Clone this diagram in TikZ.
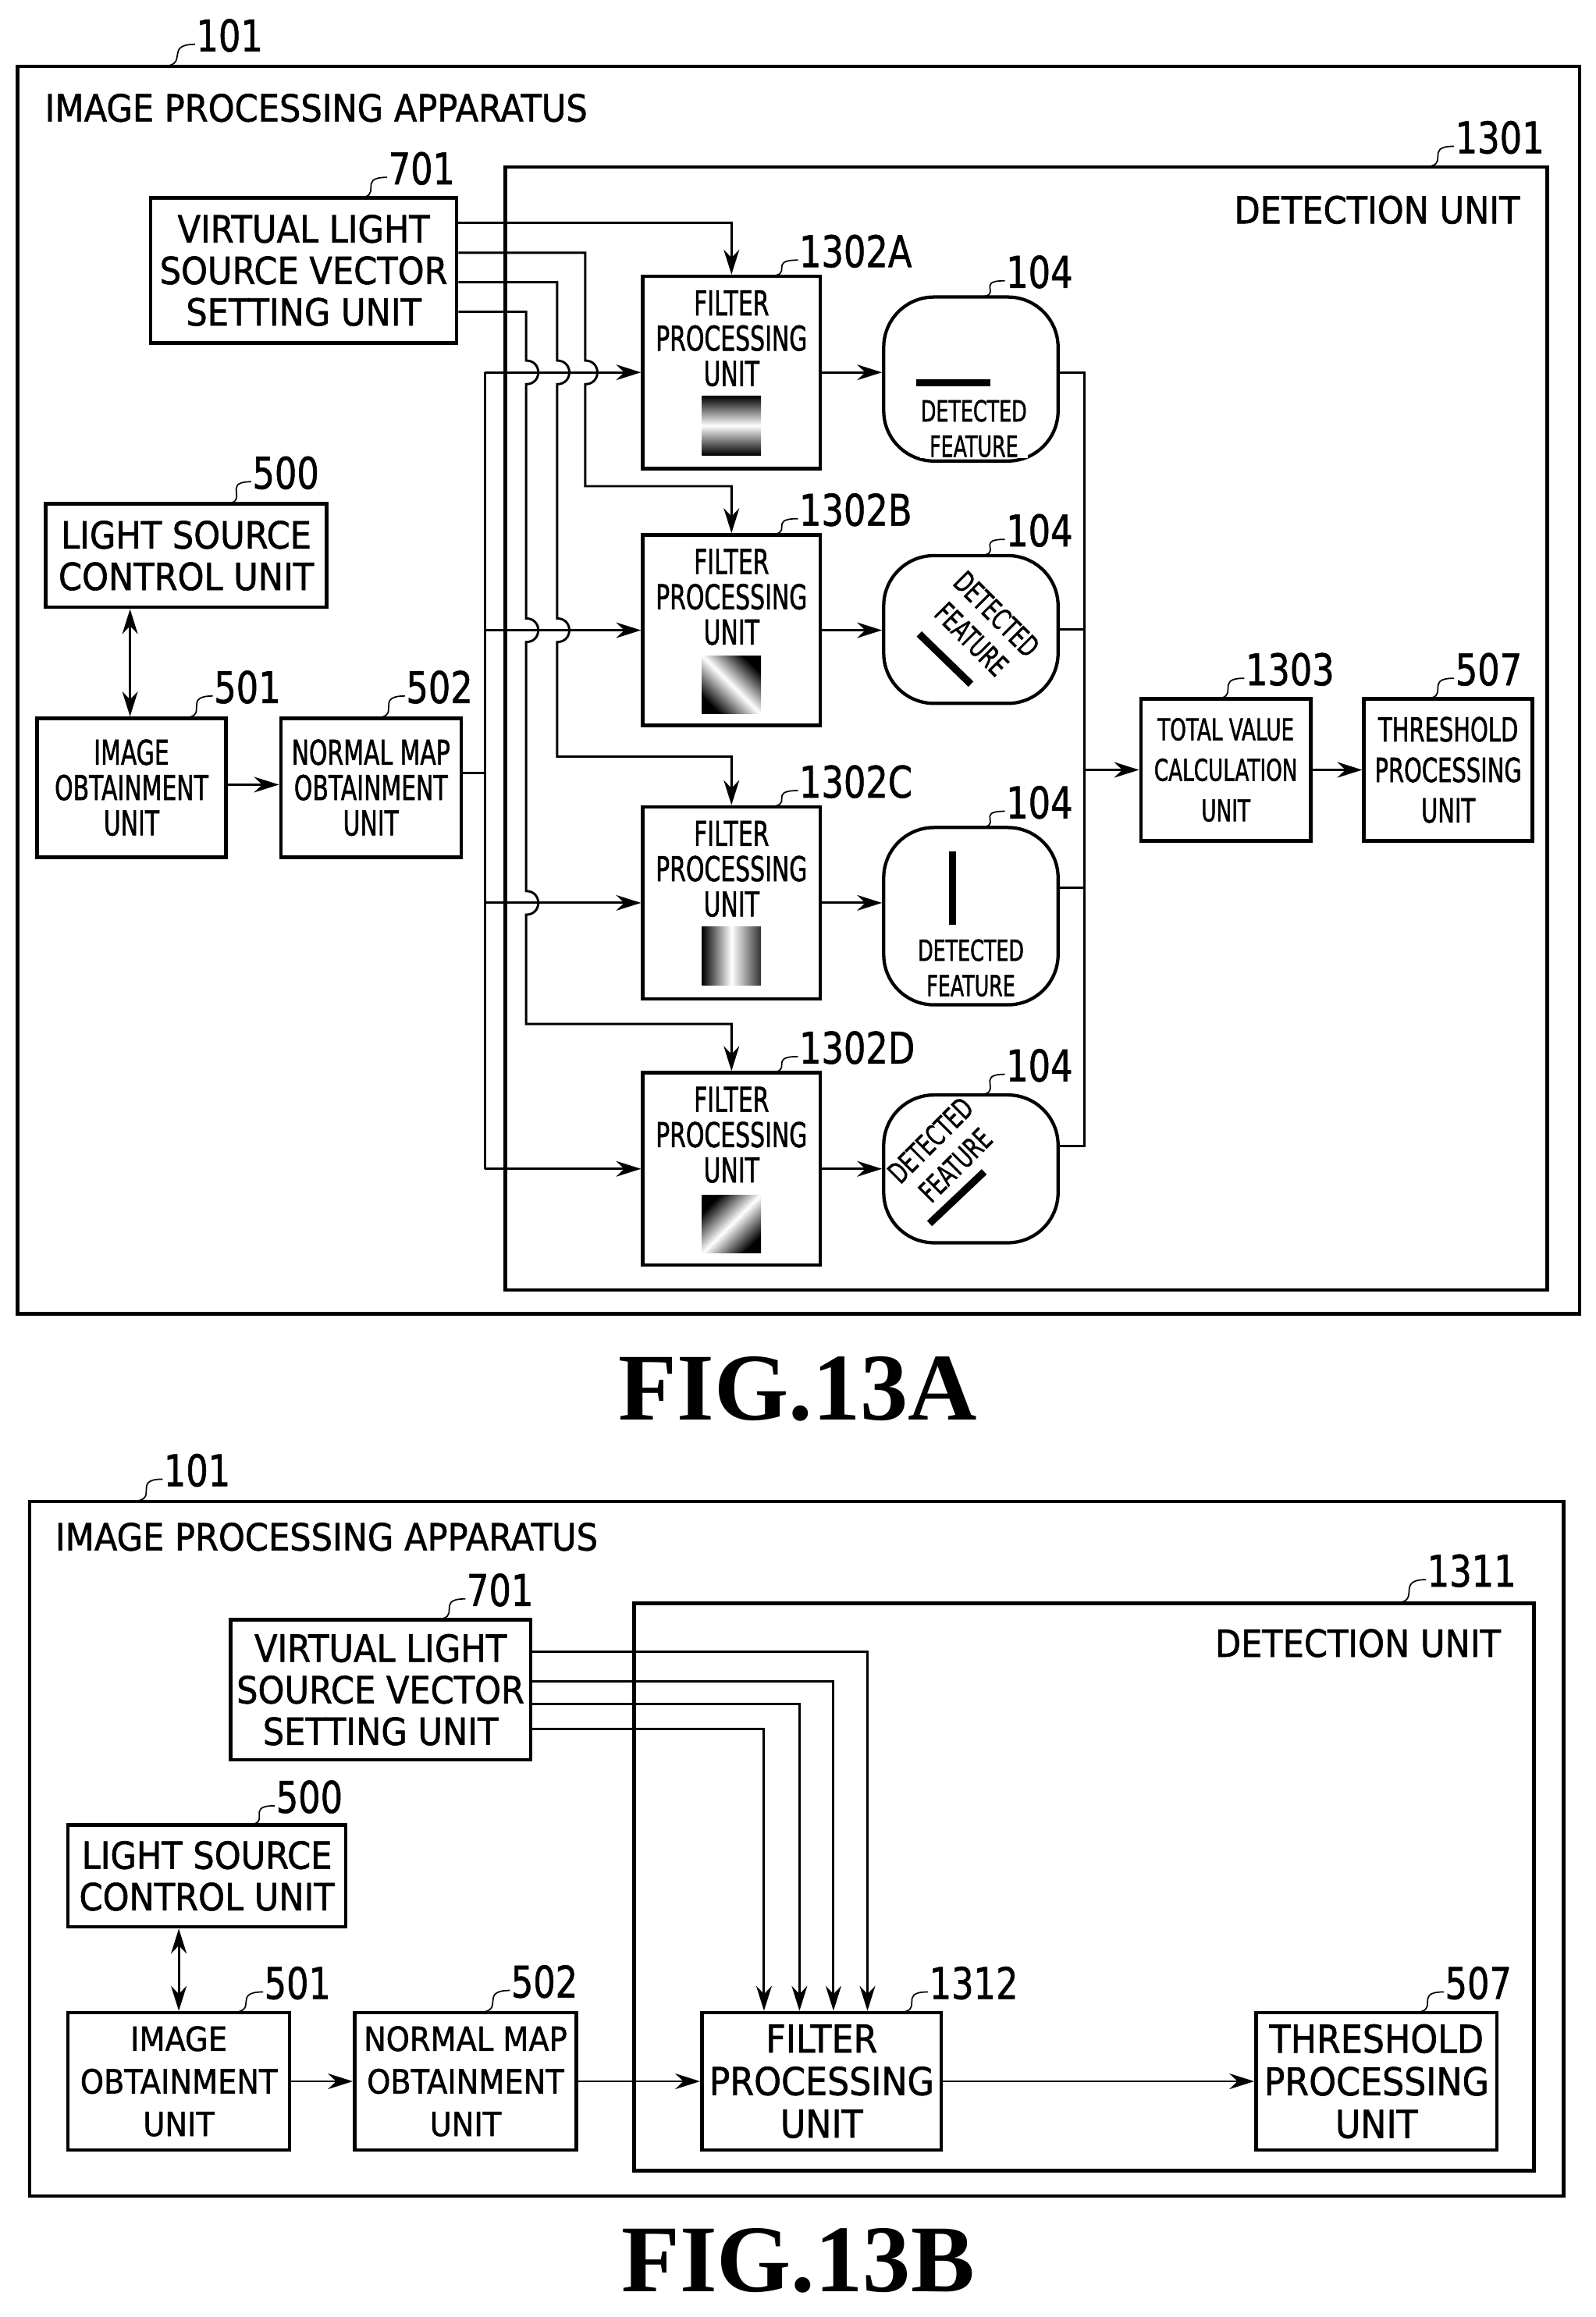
\documentclass[tikz,border=0pt]{standalone}
\usepackage{fontspec}
\setmainfont{DejaVu Sans}
\newfontfamily\fa[FakeStretch=0.9,FakeBold=1.2]{DejaVu Sans}
\newfontfamily\fl[FakeStretch=0.8,FakeBold=1]{DejaVu Sans}
\newfontfamily\fc[FakeStretch=0.68,FakeBold=1.2]{DejaVu Sans}
\newfontfamily\fs{Liberation Serif}
\usetikzlibrary{arrows.meta}
\newcommand\mkbox[7]{\node[#6,minimum width={(#4-#2)*0.05cm},minimum height={(#5-#3)*0.05cm}] (#1) at ({(#2+#4)/2},{(#3+#5)/2}) {#7};}
\newcommand\reflab[6]{\draw[line width=1.3pt] (#2,#3) .. controls ({#2+22},#3) and ({#4-22},#5) .. (#4,#5);
  \node[lab,anchor=west] (#1) at (#4,{#5-6}) {#6};}
\begin{document}
\begin{tikzpicture}[x=0.05cm,y=-0.05cm,
  box/.style={draw,line width=3.4pt,inner sep=0pt,align=center},
  frame/.style={draw,line width=3.4pt,inner sep=0pt},
  shp/.style={draw,line width=3.2pt,inner sep=0pt,rounded corners=1.7cm},
  ln/.style={line width=2.2pt},
  arr/.style={ln,-{Stealth[length=24pt,width=15pt]}},
  darr/.style={ln,{Stealth[length=24pt,width=15pt]}-{Stealth[length=24pt,width=15pt]}},
  lab/.style={inner sep=1pt,font=\fl\fontsize{42}{42}\selectfont},
  tA/.style={font=\fa\fontsize{36}{40}\selectfont},
  tC/.style={font=\fc\fontsize{33}{34}\selectfont},
  tD/.style={font=\fc\fontsize{28}{34}\selectfont,inner sep=1pt,align=center},
  bar/.style={line width=7pt}]
\useasboundingbox (0,0) rectangle (1080,1568);
% ================= FIG 13A =================
\mkbox{outA}{12}{45}{1069}{889}{frame}{}
\mkbox{detA}{342}{113}{1047}{873}{frame}{}
\node[tA,anchor=west] (ipaA) at (28,73) {IMAGE PROCESSING APPARATUS};
\node[tA,anchor=east] (duA) at (1031,142) {DETECTION UNIT};
\mkbox{vA}{102}{134}{309}{232}{box,tA}{VIRTUAL LIGHT\\SOURCE VECTOR\\SETTING UNIT}
\mkbox{lsA}{31}{341}{221}{411}{box,tA}{LIGHT SOURCE\\CONTROL UNIT}
\mkbox{ioA}{25}{486}{153}{580}{box,tC}{IMAGE\\OBTAINMENT\\UNIT}
\mkbox{nmA}{190}{486}{312}{580}{box,tC}{NORMAL MAP\\OBTAINMENT\\UNIT}
\mkbox{tvA}{772}{473}{887}{569}{box,font=\fc\fontsize{29}{39}\selectfont}{TOTAL VALUE\\CALCULATION\\UNIT}
\mkbox{thA}{923}{473}{1037}{569}{box,font=\fc\fontsize{32}{39}\selectfont}{THRESHOLD\\PROCESSING\\UNIT}
% filter boxes
\mkbox{fA}{435}{187}{555}{317}{box}{}
\mkbox{fB}{435}{362}{555}{491}{box}{}
\mkbox{fC}{435}{546}{555}{676}{box}{}
\mkbox{fD}{435}{726}{555}{856}{box}{}
\node[tC,align=center] (ftA) at (495,229) {FILTER\\PROCESSING\\UNIT};
\node[tC,align=center] (ftB) at (495,404) {FILTER\\PROCESSING\\UNIT};
\node[tC,align=center] (ftC) at (495,588) {FILTER\\PROCESSING\\UNIT};
\node[tC,align=center] (ftD) at (495,768) {FILTER\\PROCESSING\\UNIT};
\shade[top color=black,bottom color=black,middle color=white] (475,268) rectangle (515,308);
\shade[top color=black,bottom color=black,middle color=white,shading angle=135] (475,444) rectangle (515,483);
\shade[left color=black,right color=black!80,middle color=white] (475,627) rectangle (515,667);
\shade[top color=black,bottom color=black,middle color=white,shading angle=45] (475,809) rectangle (515,848);
% detected feature shapes
\mkbox{dA}{598}{201}{716}{312}{shp}{}
\mkbox{dB}{598}{376}{716}{476}{shp}{}
\mkbox{dC}{598}{560}{716}{680}{shp}{}
\mkbox{dD}{598}{741}{716}{841}{shp}{}
\draw[bar] (620,259) -- (670,259);
\node[tD,fill=white] (dtA) at (659,290) {DETECTED\\FEATURE};
\draw[bar] (644.5,576) -- (644.5,626);
\node[tD,fill=white] (dtC) at (657,655) {DETECTED\\FEATURE};
\draw[bar] (622,429) -- (657,463);
\node[tD,rotate=-45] (dtB) at (666,424) {DETECTED\\FEATURE};
\draw[bar] (629,828) -- (666,793);
\node[tD,rotate=45] (dtD) at (638,780) {DETECTED\\FEATURE};
% labels
\reflab{l101A}{108}{45}{132}{30}{101}
\reflab{l701A}{240}{134}{262}{120}{701}
\reflab{l500A}{150}{341}{170}{326}{500}
\reflab{l501A}{122}{486}{144}{471}{501}
\reflab{l502A}{252}{486}{274}{471}{502}
\reflab{l1302A}{518}{187}{540}{176}{1302A}
\reflab{l1302B}{518}{362}{540}{351}{1302B}
\reflab{l1302C}{518}{546}{540}{535}{1302C}
\reflab{l1302D}{518}{726}{540}{715}{1302D}
\reflab{l104A}{660}{201}{680}{190}{104}
\reflab{l104B}{660}{376}{680}{365}{104}
\reflab{l104C}{660}{560}{680}{549}{104}
\reflab{l104D}{660}{741}{680}{727}{104}
\reflab{l1303}{820}{473}{842}{459}{1303}
\reflab{l507A}{962}{473}{984}{459}{507}
\reflab{l1301}{962}{113}{984}{99}{1301}
% connectors 13A
\draw[darr] (lsA.south -| 88,0) -- (ioA.north -| 88,0);
\draw[arr] (ioA.east |- 0,531) -- (nmA.west |- 0,531);
\coordinate (busT) at (328,252);
\coordinate (busB) at (328,791);
\draw[ln] (nmA.east |- 0,523) -- (328,523);
\draw[ln] (busT) -- (busB);
\draw[arr] (busT) -- (fA.west);
\draw[arr] (328,426.5) -- (fB.west);
\draw[arr] (328,611) -- (fC.west);
\draw[arr] (busB) -- (fD.west);
\draw[arr] (vA.east |- 0,151) -| (fA.north);
\draw[arr] (vA.east |- 0,171) -- (396,171) -- (396,244) .. controls (407,244) and (407,260) .. (396,260) -- (396,329) -| (fB.north);
\draw[arr] (vA.east |- 0,191) -- (377,191) -- (377,244) .. controls (388,244) and (388,260) .. (377,260)
  -- (377,418.5) .. controls (388,418.5) and (388,434.5) .. (377,434.5) -- (377,512) -| (fC.north);
\draw[arr] (vA.east |- 0,211) -- (356,211) -- (356,244) .. controls (367,244) and (367,260) .. (356,260)
  -- (356,418.5) .. controls (367,418.5) and (367,434.5) .. (356,434.5)
  -- (356,603) .. controls (367,603) and (367,619) .. (356,619) -- (356,693) -| (fD.north);
\draw[arr] (fA.east) -- (dA.west |- fA.east);
\draw[arr] (fB.east) -- (dB.west |- fB.east);
\draw[arr] (fC.east) -- (dC.west |- fC.east);
\draw[arr] (fD.east) -- (dD.west |- fD.east);
\coordinate (sumT) at (734,252);
\coordinate (sumB) at (734,775.5);
\draw[ln] (dA.east |- sumT) -- (sumT) -- (sumB) -- (dD.east |- sumB);
\draw[ln] (dB.east |- 0,426) -- (734,426);
\draw[ln] (dC.east |- 0,600.6) -- (734,600.6);
\draw[arr] (734,521) -- (tvA.west);
\draw[arr] (tvA.east) -- (thA.west);
\node[font=\fs\bfseries\fontsize{92}{92}\selectfont] (capA) at (540,940) {FIG.13A};
% ================= FIG 13B =================
\mkbox{outB}{20}{1016}{1058}{1486}{frame}{}
\mkbox{detB}{429}{1085}{1038}{1469}{frame}{}
\node[tA,anchor=west] (ipaB) at (35,1040) {IMAGE PROCESSING APPARATUS};
\node[tA,anchor=east] (duB) at (1018,1112) {DETECTION UNIT};
\mkbox{vB}{156}{1096}{359}{1191}{box,tA}{VIRTUAL LIGHT\\SOURCE VECTOR\\SETTING UNIT}
\mkbox{lsB}{46}{1235}{234}{1304}{box,tA}{LIGHT SOURCE\\CONTROL UNIT}
\mkbox{ioB}{46}{1362}{196}{1455}{box,font=\fa\fontsize{32}{41}\selectfont}{IMAGE\\OBTAINMENT\\UNIT}
\mkbox{nmB}{240}{1362}{390}{1455}{box,font=\fa\fontsize{32}{41}\selectfont}{NORMAL MAP\\OBTAINMENT\\UNIT}
\mkbox{fB1312}{475}{1362}{637}{1455}{box,font=\fa\fontsize{37}{41}\selectfont}{FILTER\\PROCESSING\\UNIT}
\mkbox{thB}{850}{1362}{1013}{1455}{box,font=\fa\fontsize{37}{41}\selectfont}{THRESHOLD\\PROCESSING\\UNIT}
\reflab{l101B}{88}{1016}{110}{1001}{101}
\reflab{l701B}{293}{1096}{315}{1082}{701}
\reflab{l500B}{165}{1235}{186}{1222}{500}
\reflab{l501B}{155}{1362}{178}{1348}{501}
\reflab{l502B}{322}{1362}{345}{1347}{502}
\reflab{l1312}{606}{1362}{628}{1348}{1312}
\reflab{l507B}{955}{1362}{977}{1348}{507}
\reflab{l1311}{942}{1085}{965}{1069}{1311}
\draw[darr] (lsB.south -| 121,0) -- (ioB.north -| 121,0);
\draw[arr] (ioB.east) -- (nmB.west);
\draw[arr] (nmB.east) -- (fB1312.west);
\draw[arr] (fB1312.east) -- (thB.west);
\draw[arr] (vB.east |- 0,1118) -| (fB1312.north -| 587,0);
\draw[arr] (vB.east |- 0,1138) -| (fB1312.north -| 564,0);
\draw[arr] (vB.east |- 0,1153) -| (fB1312.north -| 541,0);
\draw[arr] (vB.east |- 0,1170) -| (fB1312.north -| 517,0);
\node[font=\fs\bfseries\fontsize{92}{92}\selectfont] (capB) at (540,1530) {FIG.13B};
\end{tikzpicture}
\end{document}
